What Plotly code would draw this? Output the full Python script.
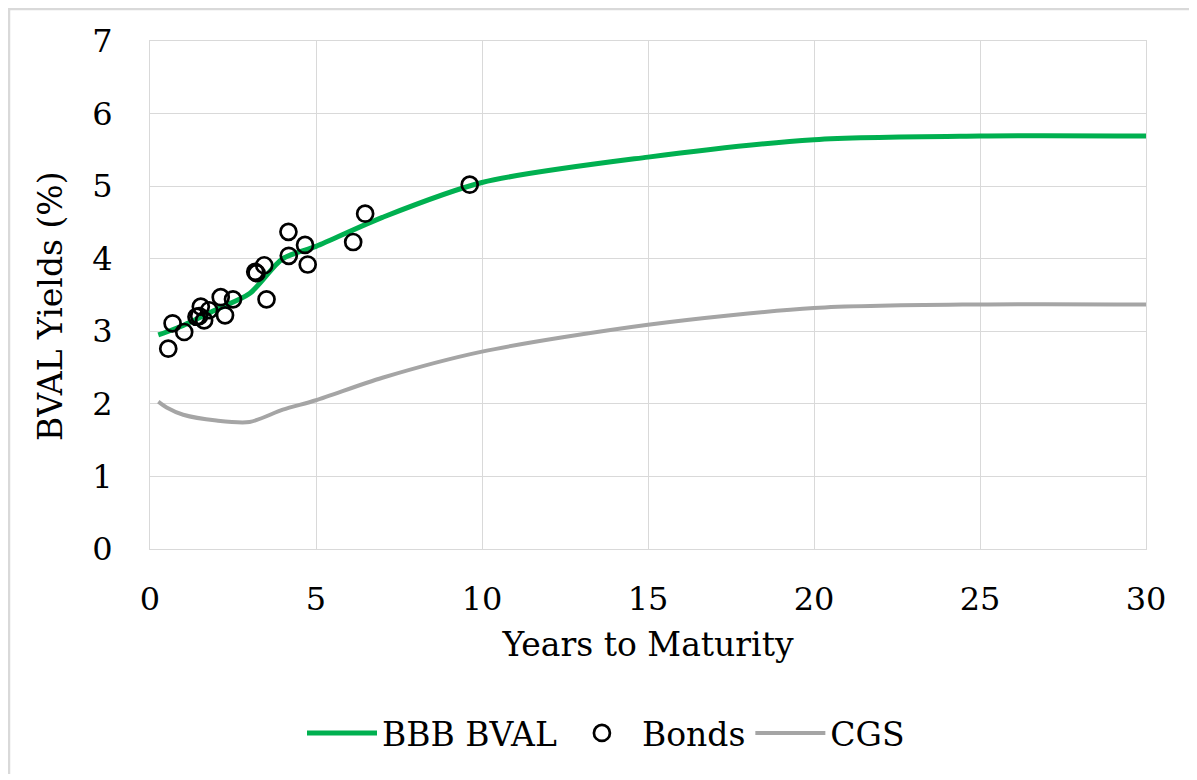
import plotly.graph_objects as go

tenors = [0.25, 0.5, 1, 2, 3, 4, 5, 7, 10, 15, 20, 25, 30]
bbb_bval = [2.95, 2.99, 3.08, 3.30, 3.52, 4.00, 4.17, 4.57, 5.05, 5.40, 5.64, 5.69, 5.69]
cgs = [2.03, 1.95, 1.85, 1.77, 1.75, 1.92, 2.05, 2.36, 2.72, 3.09, 3.32, 3.37, 3.37]

bond_years = [0.55, 0.68, 1.03, 1.40, 1.53, 1.48, 1.63, 1.78, 2.13, 2.26, 2.50,
              3.17, 3.21, 3.44, 3.51, 4.17, 4.18, 4.67, 4.75, 6.12, 6.48, 9.63]
bond_yields = [2.76, 3.11, 2.99, 3.20, 3.34, 3.21, 3.15, 3.29, 3.47, 3.22, 3.44,
               3.82, 3.80, 3.91, 3.44, 4.37, 4.04, 4.19, 3.92, 4.23, 4.62, 5.02]

x_ticks = [0, 5, 10, 15, 20, 25, 30]
y_ticks = [0, 1, 2, 3, 4, 5, 6, 7]

FONT = "DejaVu Serif"
GRID = "#d9d9d9"
FS = 32

fig = go.Figure()
fig.add_trace(go.Scatter(
    x=tenors, y=bbb_bval, mode="lines", name="BBB BVAL",
    line=dict(color="#00b050", width=5, shape="spline", smoothing=0.8),
))
fig.add_trace(go.Scatter(
    x=bond_years, y=bond_yields, mode="markers", name="Bonds",
    marker=dict(symbol="circle-open", size=16, color="black", line=dict(width=2.7, color="black")),
))
fig.add_trace(go.Scatter(
    x=tenors, y=cgs, mode="lines", name="CGS",
    line=dict(color="#a5a5a5", width=4, shape="spline", smoothing=0.8),
))

OFF = 8  # page offset of the figure
L, R, T, B = 150, 1146, 41, 549   # target plot-area pixels in the window
W, H = 1183, 766
pw, ph = R - L, B - T

fig.update_layout(
    width=W, height=H,
    margin=dict(l=L - OFF, r=OFF + W - R, t=T - OFF, b=OFF + H - B, pad=0),
    paper_bgcolor="white", plot_bgcolor="white",
    font=dict(family=FONT, size=FS, color="black"),
    showlegend=True,
    legend=dict(
        orientation="h", x=(606 - L) / pw, xanchor="center",
        y=(B - 733) / ph, yanchor="middle",
        font=dict(family=FONT, size=33, color="black"),
        itemwidth=70, tracegroupgap=0, bgcolor="rgba(0,0,0,0)",
    ),
    xaxis=dict(
        range=[0, 30], tickvals=x_ticks, ticktext=[str(v) for v in x_ticks],
        showgrid=True, gridcolor=GRID, gridwidth=1,
        showline=True, linecolor=GRID, linewidth=1, mirror=True,
        zeroline=False, ticks="", ticklabelstandoff=22,
        tickfont=dict(family=FONT, size=FS, color="black"),
        title=dict(text="Years to Maturity", font=dict(family=FONT, size=33, color="black"), standoff=15),
    ),
    yaxis=dict(
        range=[0, 7], tickvals=y_ticks, ticktext=[str(v) for v in y_ticks],
        showgrid=True, gridcolor=GRID, gridwidth=1,
        showline=True, linecolor=GRID, linewidth=1, mirror=True,
        zeroline=False, ticks="", ticklabelstandoff=30,
        tickfont=dict(family=FONT, size=FS, color="black"),
    ),
    annotations=[dict(
        text="BVAL Yields (%)", textangle=-90, showarrow=False,
        xref="paper", yref="paper", x=(50 - L) / pw, y=(B - 306) / ph,
        xanchor="center", yanchor="middle",
        font=dict(family=FONT, size=33, color="black"),
    )],
    shapes=[dict(
        type="rect", xref="paper", yref="paper",
        x0=(9 - L) / pw, x1=(1260 - L) / pw,
        y0=(B - 800) / ph, y1=(B - 9) / ph,
        line=dict(color=GRID, width=2.5), fillcolor="rgba(0,0,0,0)", layer="below",
    )],
)

fig.write_html("out.html")
